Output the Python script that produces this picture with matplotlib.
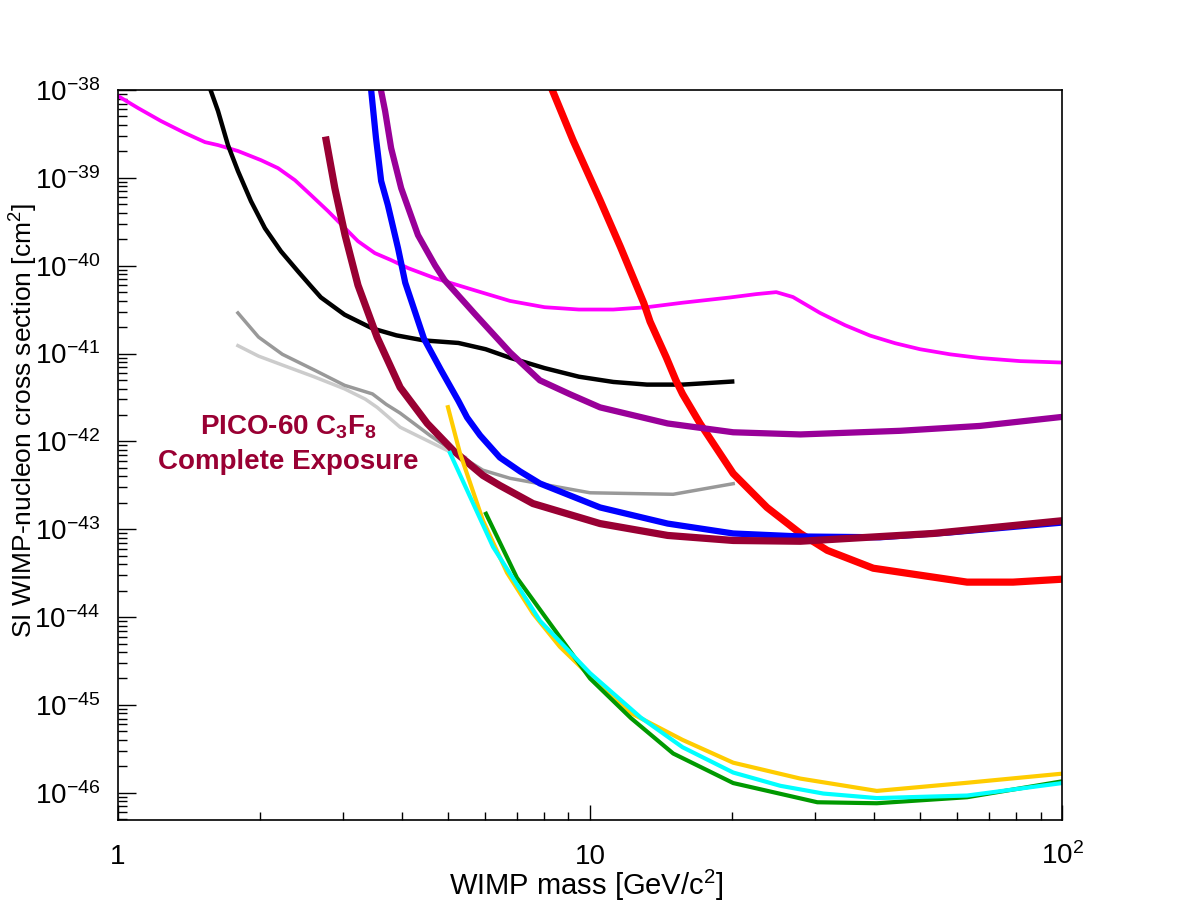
import matplotlib
matplotlib.use("Agg")
import matplotlib.pyplot as plt
import numpy as np
from matplotlib.ticker import FixedLocator, NullFormatter

plt.rcParams["font.family"] = ["Liberation Sans", "DejaVu Sans"]
plt.rcParams["mathtext.fontset"] = "custom"
plt.rcParams["mathtext.rm"] = "Liberation Sans"
plt.rcParams["mathtext.it"] = "Liberation Sans:italic"
plt.rcParams["mathtext.bf"] = "Liberation Sans:bold"

# curves: mass [GeV/c^2], cross section [cm^2]
magenta_m = [1.0, 1.103, 1.233, 1.386, 1.529, 1.629, 1.796, 2.009, 2.183, 2.371, 2.564, 2.786,
             3.027, 3.224, 3.501, 3.787, 4.114, 4.695, 5.72, 6.77, 8.01, 9.47, 11.2, 13.2, 15.7,
             19.8, 22.5, 24.8, 26.9, 30.7, 34.7, 39.2, 44.3, 50, 57.9, 67, 81.5, 100]
magenta_s = [8.55e-39, 6.23e-39, 4.44e-39, 3.24e-39, 2.55e-39, 2.36e-39, 2.02e-39, 1.59e-39,
             1.29e-39, 9.4e-40, 6.36e-40, 4.18e-40, 2.67e-40, 1.90e-40, 1.39e-40, 1.16e-40,
             9.4e-41, 7.2e-41, 5.21e-41, 3.97e-41, 3.37e-41, 3.17e-41, 3.17e-41, 3.37e-41,
             3.79e-41, 4.35e-41, 4.75e-41, 5.0e-41, 4.4e-41, 2.9e-41, 2.1e-41, 1.6e-41, 1.31e-41,
             1.12e-41, 9.8e-42, 8.9e-42, 8.2e-42, 7.9e-42]

black_m = [1.574, 1.629, 1.71, 1.796, 1.913, 2.048, 2.214, 2.405, 2.564, 2.69, 3.02, 3.46, 3.89,
           4.45, 5.26, 6.01, 6.77, 8.01, 9.47, 11.2, 13.2, 15.7, 20.0]
black_s = [9.7e-39, 5.77e-39, 2.36e-39, 1.19e-39, 5.43e-40, 2.67e-40, 1.46e-40, 8.65e-41,
           5.83e-41, 4.36e-41, 2.77e-41, 1.93e-41, 1.61e-41, 1.41e-41, 1.32e-41, 1.12e-41,
           8.95e-42, 6.83e-42, 5.45e-42, 4.75e-42, 4.43e-42, 4.43e-42, 4.8e-42]

gray_m = [1.795, 1.985, 2.23, 2.60, 3.02, 3.46, 3.70, 3.96, 4.58, 5.57, 5.93, 6.77, 10.0, 15.0,
          20.1]
gray_s = [2.9e-41, 1.54e-41, 9.8e-42, 6.53e-42, 4.35e-42, 3.47e-42, 2.64e-42, 2.1e-42, 1.17e-42,
          5.8e-43, 4.7e-43, 3.8e-43, 2.6e-43, 2.5e-43, 3.3e-43]

lgray_m = [1.795, 1.985, 2.27, 2.60, 3.02, 3.34, 3.54, 3.96, 4.98, 5.44]
lgray_s = [1.23e-41, 9.35e-42, 7.14e-42, 5.45e-42, 3.96e-42, 3.03e-42, 2.44e-42, 1.45e-42,
           7.9e-43, 6.6e-43]

pico_m = [2.76, 2.88, 3.027, 3.224, 3.54, 3.96, 4.52, 5.13, 5.93, 6.44, 7.57, 10.5, 14.6, 20.1,
          27.9, 53.3, 100]
pico_s = [2.69e-39, 7.64e-40, 2.23e-40, 6.0e-41, 1.53e-41, 4.12e-42, 1.60e-42, 7.89e-43,
          4.1e-43, 3.15e-43, 1.96e-43, 1.16e-43, 8.5e-44, 7.45e-44, 7.3e-44, 8.95e-44, 1.25e-43]

blue_m = [3.44, 3.52, 3.61, 3.73, 3.92, 4.06, 4.45, 4.83, 5.26, 5.49, 5.85, 6.44, 7.11, 7.83,
          10.5, 14.6, 20.1, 27.9, 41.1, 57.9, 100]
blue_s = [9.7e-39, 2.84e-39, 9.2e-40, 4.9e-40, 1.58e-40, 6.4e-41, 1.47e-41, 6.53e-42, 2.9e-42,
          1.87e-42, 1.17e-42, 6.56e-43, 4.55e-43, 3.32e-43, 1.77e-43, 1.16e-43, 8.95e-44,
          8.27e-44, 8.1e-44, 9.2e-44, 1.19e-43]

purple_m = [3.61, 3.68, 3.79, 3.98, 4.32, 4.695, 4.92, 5.72, 6.77, 7.83, 9.07, 10.5, 14.6, 20.1,
            27.9, 45.4, 67, 100]
purple_s = [9.7e-39, 5.77e-39, 2.18e-39, 7.64e-40, 2.23e-40, 1.01e-40, 6.84e-41, 2.77e-41,
            1.03e-41, 4.95e-42, 3.44e-42, 2.44e-42, 1.6e-42, 1.27e-42, 1.2e-42, 1.32e-42,
            1.5e-42, 1.9e-42]

red_m = [8.35, 9.20, 10.5, 11.6, 13.0, 13.4, 14.5, 15.2, 15.7, 17.1, 20.1, 23.7, 27.9, 31.8,
         39.8, 50, 62.9, 78.7, 100]
red_s = [9.5e-39, 2.69e-39, 5.57e-40, 1.63e-40, 3.74e-41, 2.31e-41, 9.06e-42, 4.95e-42,
         3.47e-42, 1.6e-42, 4.31e-43, 1.77e-43, 8.95e-44, 5.75e-44, 3.6e-44, 3.0e-44, 2.5e-44,
         2.5e-44, 2.7e-44]

gold_m = [5.0, 5.30, 5.93, 6.67, 7.57, 8.63, 9.86, 12.3, 15.7, 20.1, 27.9, 40.5, 62.9, 100]
gold_s = [2.45e-42, 7.4e-43, 1.26e-43, 3.2e-44, 1.1e-44, 4.6e-45, 2.3e-45, 7.9e-46, 4.0e-46,
          2.2e-46, 1.45e-46, 1.05e-46, 1.3e-46, 1.65e-46]

cyan_m = [5.05, 6.23, 7.83, 10.0, 12.8, 15.7, 20.1, 25.3, 31.2, 40.5, 62.9, 100]
cyan_s = [7.4e-43, 6.3e-44, 9.1e-45, 2.3e-45, 7.2e-46, 3.3e-46, 1.7e-46, 1.2e-46, 9.8e-47,
          8.7e-47, 9.3e-47, 1.29e-46]

green_m = [6.02, 7.0, 8.22, 10.0, 12.2, 15.0, 20.1, 30.3, 40.5, 62.9, 100]
green_s = [1.5e-43, 2.8e-44, 8.5e-45, 2.0e-45, 7.1e-46, 2.8e-46, 1.29e-46, 7.8e-47, 7.6e-47,
           8.9e-47, 1.35e-46]

x_ticks = [1, 10, 100]
x_labels = ["1", "10", "$10^{2}$"]
y_exps = list(range(-46, -37))

fig = plt.figure(figsize=(11.82, 9.11), dpi=100)
ax = fig.add_axes([0.0998, 0.0999, 0.7988, 0.8013])

ax.plot(magenta_m, magenta_s, color="#ff00ff", lw=2.7)
ax.plot(black_m, black_s, color="black", lw=3.2)
ax.plot(lgray_m, lgray_s, color="#cccccc", lw=2.5)
ax.plot(gray_m, gray_s, color="#999999", lw=2.5)
ax.plot(red_m, red_s, color="#ff0000", lw=5.2)
ax.plot(purple_m, purple_s, color="#990099", lw=4.5)
ax.plot(blue_m, blue_s, color="#0000ff", lw=4.5)
ax.plot(pico_m, pico_s, color="#990033", lw=5.2)
ax.plot(gold_m, gold_s, color="#ffcc00", lw=3)
ax.plot(green_m, green_s, color="#009900", lw=3)
ax.plot(cyan_m, cyan_s, color="#00ffff", lw=3)

ax.set_xscale("log")
ax.set_yscale("log")
ax.set_xlim(1, 100)
ax.set_ylim(4.9e-47, 1e-38)

ax.xaxis.set_major_locator(FixedLocator(x_ticks))
ax.set_xticklabels(x_labels)
ax.xaxis.set_minor_locator(FixedLocator([d * 10 ** k for k in (0, 1) for d in range(2, 10)]))
ax.xaxis.set_minor_formatter(NullFormatter())

ax.yaxis.set_major_locator(FixedLocator([10.0 ** e for e in y_exps]))
ax.set_yticklabels([f"$10^{{{e}}}$" for e in y_exps])
ax.yaxis.set_minor_locator(FixedLocator([d * 10.0 ** e for e in range(-47, -38) for d in range(2, 10)]))
ax.yaxis.set_minor_formatter(NullFormatter())

ax.tick_params(which="both", direction="in", top=False, right=False, width=1)
ax.tick_params(axis="x", which="major", length=11, pad=32, labelsize=20)
ax.tick_params(axis="x", which="minor", length=6)
ax.tick_params(axis="y", which="major", length=13, pad=13, labelsize=20)
ax.tick_params(axis="y", which="minor", length=6.5)
for lab in ax.get_xticklabels():
    lab.set_verticalalignment("baseline")
for s in ax.spines.values():
    s.set_linewidth(1.2)

ax.set_xlabel("WIMP mass [GeV/c$^{2}$]", fontsize=21)
ax.xaxis.set_label_coords(0.496, -0.066)
ax.set_ylabel("SI WIMP-nucleon cross section [cm$^{2}$]", fontsize=19)
ax.yaxis.set_label_coords(-0.083, 0.547)

ax.text(2.30, 1.45e-42, "PICO-60 C$_\\mathbf{3}$F$_\\mathbf{8}$", color="#990033", fontsize=20,
        fontweight="bold", ha="center", va="center")
ax.text(2.30, 5.8e-43, "Complete Exposure", color="#990033", fontsize=20,
        fontweight="bold", ha="center", va="center")

plt.savefig("out.png", dpi=100)
